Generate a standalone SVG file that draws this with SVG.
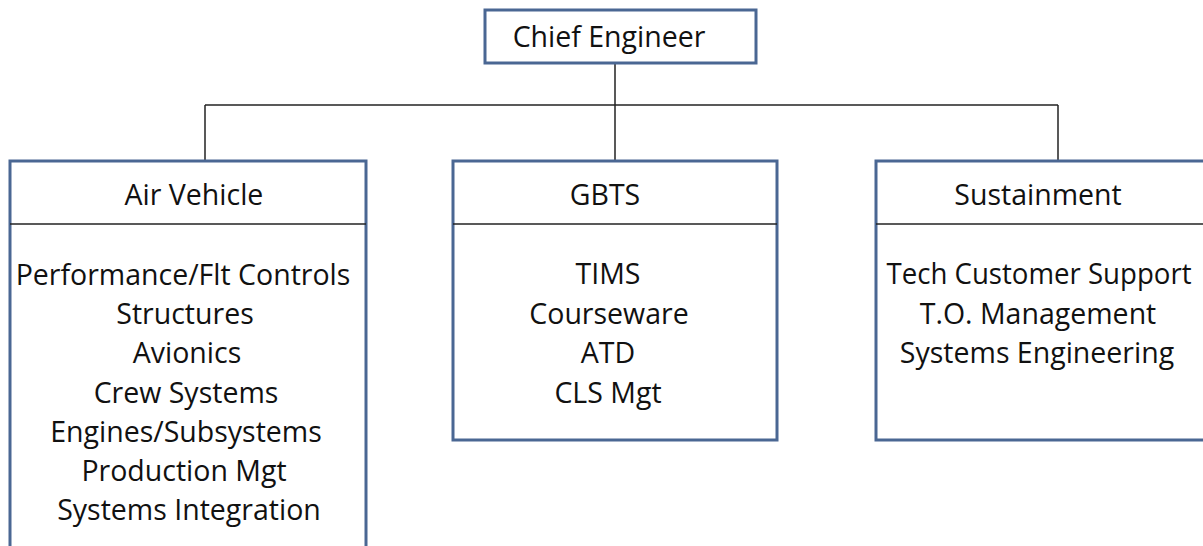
<svg xmlns="http://www.w3.org/2000/svg" width="1203" height="546" viewBox="0 0 1203 546">
<style>
.box{fill:#fff;stroke:#4a6793;stroke-width:3}
.div{stroke:#222;stroke-width:1.5}
.conn{fill:none;stroke:#222;stroke-width:1.5}
text{font-family:"Open Sans","Liberation Sans",sans-serif;font-size:28.5px;fill:#111;text-anchor:middle}
</style>
<rect width="1203" height="546" fill="#fff"/>
<g id="connectors">
<line class="conn" x1="615" y1="63" x2="615" y2="105"/>
<line class="conn" x1="205" y1="105" x2="1058" y2="105"/>
<line class="conn" x1="205" y1="105" x2="205" y2="161"/>
<line class="conn" x1="615" y1="105" x2="615" y2="161"/>
<line class="conn" x1="1058" y1="105" x2="1058" y2="161"/>
</g>
<g id="chief">
<rect class="box" x="485" y="10" width="271" height="53"/>
<text x="609" y="47">Chief Engineer</text>
</g>
<g id="air-vehicle">
<rect class="box" x="10" y="161" width="356" height="400"/>
<line class="div" x1="10" y1="224" x2="366" y2="224"/>
<text x="194" y="205">Air Vehicle</text>
<text x="183" y="285">Performance/Flt Controls</text>
<text x="185" y="324">Structures</text>
<text x="187" y="363">Avionics</text>
<text x="186" y="403">Crew Systems</text>
<text x="186" y="442">Engines/Subsystems</text>
<text x="184" y="481">Production Mgt</text>
<text x="189" y="520">Systems Integration</text>
</g>
<g id="gbts">
<rect class="box" x="453" y="161" width="324" height="279"/>
<line class="div" x1="453" y1="224" x2="777" y2="224"/>
<text x="605" y="205">GBTS</text>
<text x="608" y="284">TIMS</text>
<text x="609" y="324">Courseware</text>
<text x="608" y="363">ATD</text>
<text x="608" y="403">CLS Mgt</text>
</g>
<g id="sustainment">
<rect class="box" x="876" y="161" width="340" height="279"/>
<line class="div" x1="876" y1="224" x2="1216" y2="224"/>
<text x="1038" y="205">Sustainment</text>
<text x="1039" y="284" textLength="305" lengthAdjust="spacingAndGlyphs">Tech Customer Support</text>
<text x="1038" y="324">T.O. Management</text>
<text x="1037" y="363">Systems Engineering</text>
</g>
</svg>
